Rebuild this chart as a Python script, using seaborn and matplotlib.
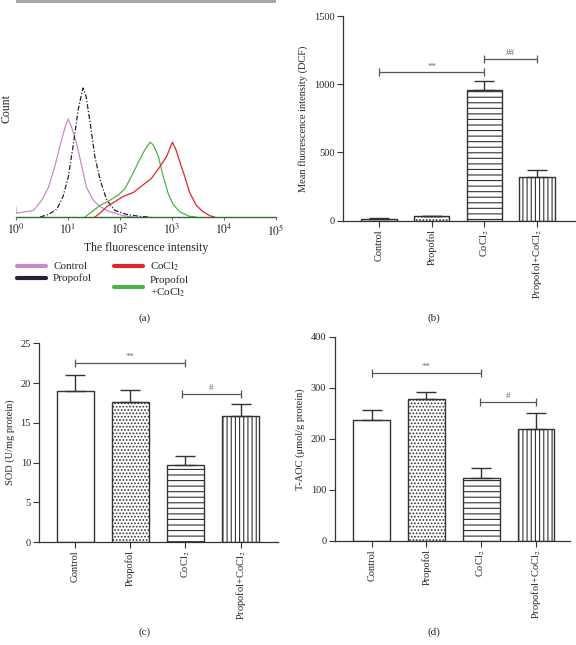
import numpy as np
import pandas as pd
import matplotlib
matplotlib.use('Agg')
import matplotlib.pyplot as plt
import seaborn as sns
from matplotlib.lines import Line2D
from matplotlib.patches import Rectangle

sns.set_style('ticks')
plt.rcParams['font.family'] = ['Liberation Serif', 'DejaVu Serif']
plt.rcParams['mathtext.fontset'] = 'stix'
plt.rcParams['hatch.linewidth'] = 0.8

# --- (a) flow cytometry histograms: log10 intensity vs relative count ---
control_logx = [0.0, 0.01, 0.34, 0.50, 0.63, 0.75, 0.85, 0.95, 1.01, 1.07, 1.17, 1.27, 1.36, 1.49, 1.62, 1.81, 2.07, 2.26]
control_cnt = [0.08, 0.03, 0.05, 0.13, 0.23, 0.39, 0.55, 0.70, 0.76, 0.70, 0.57, 0.39, 0.23, 0.13, 0.08, 0.04, 0.01, 0.0]

propofol_logx = [0.47, 0.63, 0.79, 0.91, 1.01, 1.11, 1.20, 1.29, 1.35, 1.43, 1.52, 1.62, 1.75, 1.91, 2.13, 2.38, 2.58]
propofol_cnt = [0.0, 0.02, 0.06, 0.16, 0.31, 0.57, 0.83, 1.0, 0.94, 0.73, 0.47, 0.29, 0.13, 0.05, 0.02, 0.005, 0.0]

cocl2_logx = [1.52, 1.62, 1.75, 1.91, 2.07, 2.26, 2.45, 2.61, 2.77, 2.90, 2.96, 3.01, 3.08, 3.15, 3.25, 3.34, 3.47, 3.60, 3.73, 3.82]
cocl2_cnt = [0.0, 0.03, 0.08, 0.12, 0.16, 0.19, 0.25, 0.30, 0.39, 0.47, 0.53, 0.58, 0.52, 0.43, 0.31, 0.19, 0.09, 0.04, 0.01, 0.0]

combo_logx = [1.33, 1.46, 1.62, 1.81, 1.97, 2.10, 2.23, 2.35, 2.48, 2.58, 2.64, 2.74, 2.83, 2.93, 3.02, 3.15, 3.34, 3.47]
combo_cnt = [0.0, 0.04, 0.09, 0.13, 0.17, 0.22, 0.32, 0.42, 0.52, 0.58, 0.56, 0.47, 0.32, 0.18, 0.10, 0.04, 0.005, 0.0]

# --- bar panels ---
groups = ['Control', 'Propofol', 'CoCl$_2$', 'Propofol+CoCl$_2$']
hatches = ['', '.....', '---', '||||']

dcf_mean = [15, 32, 955, 320]
dcf_err = [7, 5, 72, 52]

sod_mean = [19.0, 17.6, 9.65, 15.9]
sod_err = [1.97, 1.5, 1.13, 1.5]

taoc_mean = [237, 278, 123, 220]
taoc_err = [19, 14, 19, 31]

# significance brackets: (start group, end group, level, label)
dcf_sig = [(0, 2, 1086, '**'), (2, 3, 1186, '##')]
sod_sig = [(0, 2, 22.5, '**'), (1.93, 3, 18.6, '#')]
taoc_sig = [(0, 2, 329, '**'), (1.97, 3, 272, '#')]

W, H = 576, 645
fig = plt.figure(figsize=(W / 100, H / 100), dpi=100)


def box(l, t, r, b):
    return [l / W, 1 - b / H, (r - l) / W, (b - t) / H]


dark = '#333333'

# ---------- panel (a) ----------
ax_a = fig.add_axes(box(15.7, 0, 276, 217))
curves = [
    (control_logx, control_cnt, '#c98bc9', '-'),
    (propofol_logx, propofol_cnt, '#2d1d35', (0, (4, 1.5, 1, 1.5))),
    (combo_logx, combo_cnt, '#4fb24a', '-'),
    (cocl2_logx, cocl2_cnt, '#e0262a', '-'),
]
for lx, cnt, col, ls in curves:
    sns.lineplot(x=np.power(10.0, lx), y=cnt, ax=ax_a, color=col, lw=0.9, linestyle=ls)
ax_a.set_xscale('log')
ax_a.set_xlim(1, 1e5)
ax_a.set_ylim(0, 1.682)
ax_a.set_xticks([1, 10, 100, 1e3, 1e4, 1e5])
ax_a.set_xticklabels(['$10^0$', '$10^1$', '$10^2$', '$10^3$', '$10^4$', '$10^5$'])
ax_a.minorticks_off()
ax_a.set_yticks([])
for s in ['left', 'top', 'right']:
    ax_a.spines[s].set_visible(False)
ax_a.spines['bottom'].set_color('#2f6b2f')
ax_a.spines['bottom'].set_linewidth(1.0)
ax_a.tick_params(axis='x', length=2, width=0.6, color='#2f6b2f', labelsize=8.5, pad=2)
ax_a.set_xlabel('The fluorescence intensity', fontsize=8.5, labelpad=3)
ax_a.set_ylabel('Count', fontsize=8.5, labelpad=2)

handles = [Line2D([], [], color='#c98bc9', lw=3),
           Line2D([], [], color='#2d1d35', lw=3),
           Line2D([], [], color='#e0262a', lw=3),
           Line2D([], [], color='#4fb24a', lw=3)]
labels = ['Control', 'Propofol', 'CoCl$_2$', 'Propofol\n+CoCl$_2$']
fig.legend(handles, labels, ncol=2, frameon=False, fontsize=8,
           loc='upper left', bbox_to_anchor=(13 / W, 1 - 256 / H),
           handlelength=2.6, handletextpad=0.6, columnspacing=2.0,
           labelspacing=0.2, borderaxespad=0)

fig.add_artist(Rectangle((15.7 / W, 1 - 3 / H), (276 - 15.7) / W, 2.5 / H,
                         transform=fig.transFigure, color='#a8a8a8', lw=0))


# ---------- bar panels ----------
def bar_panel(ax, means, errs, ylim, yticks, ylabel, xlim, sig):
    df = pd.DataFrame({'group': groups, 'value': means})
    sns.barplot(data=df, x='group', y='value', ax=ax, color='white',
                edgecolor=dark, linewidth=1.0, width=0.67, errorbar=None,
                saturation=1)
    for patch, h in zip(ax.patches, hatches):
        patch.set_facecolor('white')
        patch.set_hatch(h)
    ax.errorbar(range(len(means)), means, yerr=[np.zeros(len(errs)), errs],
                fmt='none', ecolor=dark, elinewidth=1.0, capsize=7, capthick=1.0)
    for x1, x2, lev, lab in sig:
        ax.plot([x1, x2], [lev, lev], color='#555555', lw=0.9, marker='|',
                ms=6, mew=0.9, solid_capstyle='butt')
        ax.annotate(lab, ((x1 + x2) / 2, lev), xytext=(0, 1.5),
                    textcoords='offset points', ha='center', va='bottom',
                    fontsize=6.5, color='#666666')
    ax.set_ylim(*ylim)
    ax.set_yticks(yticks)
    ax.set_xlim(*xlim)
    ax.set_xlabel('')
    ax.set_ylabel(ylabel, fontsize=7.5, labelpad=4)
    ax.set_xticks(range(len(groups)))
    ax.set_xticklabels(groups, rotation=90)
    ax.tick_params(axis='both', direction='out', length=4, width=0.8,
                   color=dark, labelsize=7.5, pad=2)
    for s in ['top', 'right']:
        ax.spines[s].set_visible(False)
    for s in ['left', 'bottom']:
        ax.spines[s].set_color(dark)
        ax.spines[s].set_linewidth(0.9)


ax_b = fig.add_axes(box(342.7, 16, 576, 220.7))
bar_panel(ax_b, dcf_mean, dcf_err, (0, 1500), [0, 500, 1000, 1500],
          'Mean fluorescence intensity (DCF)', (-0.69, 3.74), dcf_sig)

ax_c = fig.add_axes(box(39.3, 343.3, 278, 542))
bar_panel(ax_c, sod_mean, sod_err, (0, 25), [0, 5, 10, 15, 20, 25],
          'SOD (U/mg protein)', (-0.65, 3.68), sod_sig)

ax_d = fig.add_axes(box(334.7, 336.7, 570, 540.7))
bar_panel(ax_d, taoc_mean, taoc_err, (0, 400), [0, 100, 200, 300, 400],
          'T-AOC (μmol/g protein)', (-0.675, 3.62), taoc_sig)

for lab, x, y in [('(a)', 145, 318), ('(b)', 434, 318), ('(c)', 145, 632), ('(d)', 434, 632)]:
    fig.text(x / W, 1 - y / H, lab, ha='center', va='center', fontsize=8)

fig.savefig('out.png', dpi=100)
